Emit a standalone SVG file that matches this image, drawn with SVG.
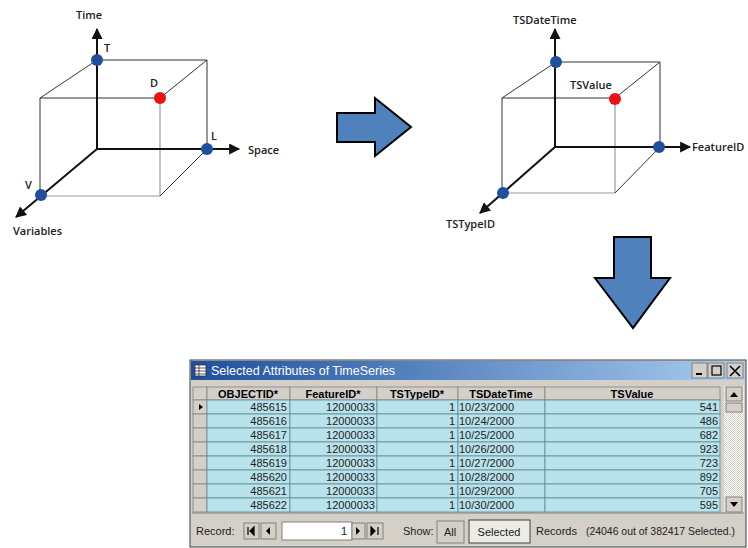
<svg xmlns="http://www.w3.org/2000/svg" width="748" height="548" viewBox="0 0 748 548">
<defs>
<marker id="ah" viewBox="0 0 10 10" refX="9" refY="5" markerWidth="6" markerHeight="5.5" orient="auto" markerUnits="strokeWidth">
<path d="M0,0 L10,5 L0,10 z" fill="#111"/>
</marker>
<linearGradient id="tb" x1="0" y1="0" x2="1" y2="0">
<stop offset="0" stop-color="#1d4f9e"/>
<stop offset="1" stop-color="#a9cdef"/>
</linearGradient>
<pattern id="sb" width="2" height="2" patternUnits="userSpaceOnUse">
<rect width="2" height="2" fill="#ffffff"/>
<rect width="1" height="1" fill="#d4d0c8"/>
<rect x="1" y="1" width="1" height="1" fill="#d4d0c8"/>
</pattern>
</defs>
<style>
.edge{stroke:#333;stroke-width:1;fill:none}
.edgel{stroke:#9a9a9a;stroke-width:1.2;fill:none}
.axis{stroke:#111;stroke-width:2;fill:none}
.bp{fill:#1f4f9f}
.rp{fill:#ee1111}
.lbl{font-family:"Open Sans","Liberation Sans",sans-serif;font-weight:600;font-size:11px;fill:#222}
.blk{fill:#4f81bd;stroke:#000;stroke-width:2}
.cell{fill:#b9e2ea;stroke:#5c8c9c;stroke-width:0.8}
.hdr{fill:#d4d0c8;stroke:#808080;stroke-width:0.8}
.ht{font-family:"Liberation Sans",Arial,sans-serif;font-weight:bold;font-size:11px;fill:#000;text-anchor:middle}
.ct{font-family:"Liberation Sans",Arial,sans-serif;font-size:11px;fill:#222}
.r{text-anchor:end}
.ui{font-family:"Liberation Sans",Arial,sans-serif;font-size:11px;fill:#222}
.btn{fill:#d4d0c8;stroke:#808080;stroke-width:1}
</style>

<g id="cube-left">
<line class="edge" x1="97" y1="60" x2="207" y2="60"/>
<line class="edge" x1="40" y1="98" x2="97" y2="60"/>
<line class="edge" x1="160" y1="98" x2="207" y2="60"/>
<line class="edge" x1="40" y1="98" x2="160" y2="98"/>
<line class="edge" x1="40" y1="98" x2="40" y2="196"/>
<line class="edge" x1="207" y1="60" x2="207" y2="149"/>
<line class="edgel" x1="160" y1="98" x2="160" y2="196"/>
<line class="edgel" x1="40" y1="196" x2="160" y2="196"/>
<line class="edge" x1="160" y1="196" x2="207" y2="149"/>
<line class="axis" x1="97" y1="149" x2="97" y2="29" marker-end="url(#ah)"/>
<line class="axis" x1="97" y1="149" x2="239" y2="149" marker-end="url(#ah)"/>
<line class="axis" x1="97" y1="149" x2="16" y2="217" marker-end="url(#ah)"/>
<circle class="bp" cx="97" cy="60" r="6"/>
<circle class="bp" cx="207" cy="149" r="6"/>
<circle class="bp" cx="41" cy="195" r="6"/>
<circle class="rp" cx="160" cy="98" r="6"/>
<text class="lbl" x="76" y="19">Time</text>
<text class="lbl" x="104" y="52">T</text>
<text class="lbl" x="150" y="87">D</text>
<text class="lbl" x="211" y="140">L</text>
<text class="lbl" x="248" y="154">Space</text>
<text class="lbl" x="25" y="189">V</text>
<text class="lbl" x="13" y="235">Variables</text>
</g>

<g id="cube-right">
<line class="edge" x1="556" y1="62" x2="660" y2="62"/>
<line class="edge" x1="502" y1="98" x2="556" y2="62"/>
<line class="edge" x1="615" y1="98" x2="660" y2="62"/>
<line class="edge" x1="502" y1="98" x2="615" y2="98"/>
<line class="edge" x1="502" y1="98" x2="502" y2="193"/>
<line class="edge" x1="660" y1="62" x2="660" y2="147"/>
<line class="edgel" x1="615" y1="98" x2="615" y2="193"/>
<line class="edgel" x1="502" y1="193" x2="615" y2="193"/>
<line class="edge" x1="615" y1="193" x2="660" y2="147"/>
<line class="axis" x1="555" y1="147" x2="555" y2="29" marker-end="url(#ah)"/>
<line class="axis" x1="555" y1="147" x2="690" y2="147" marker-end="url(#ah)"/>
<line class="axis" x1="555" y1="147" x2="480" y2="213" marker-end="url(#ah)"/>
<circle class="bp" cx="556" cy="62" r="6"/>
<circle class="bp" cx="659" cy="147" r="6"/>
<circle class="bp" cx="503" cy="193" r="6"/>
<circle class="rp" cx="615" cy="99" r="6"/>
<text class="lbl" x="513" y="24">TSDateTime</text>
<text class="lbl" x="570" y="89">TSValue</text>
<text class="lbl" x="692" y="151">FeatureID</text>
<text class="lbl" x="446" y="228">TSTypeID</text>
</g>

<g id="arrow-right">
<path class="blk" d="M337,113 L375,113 L375,98 L411,127 L375,156 L375,142 L337,142 Z"/>
</g>
<g id="arrow-down">
<path class="blk" d="M614,237 L651,237 L651,278 L670,278 L633,328 L595,278 L614,278 Z"/>
</g>

<g id="table-window">
<rect x="190" y="360" width="556" height="187" fill="#d4d0c8" stroke="#404040" stroke-width="1"/>
<rect x="191" y="361" width="554" height="19" fill="url(#tb)"/>
<g>
<rect x="195" y="365" width="11" height="11" fill="#fff" stroke="#333" stroke-width="0.8"/>
<line x1="195" y1="368" x2="206" y2="368" stroke="#333" stroke-width="0.8"/>
<line x1="195" y1="371" x2="206" y2="371" stroke="#333" stroke-width="0.8"/>
<line x1="195" y1="374" x2="206" y2="374" stroke="#333" stroke-width="0.8"/>
<line x1="199" y1="365" x2="199" y2="376" stroke="#333" stroke-width="0.8"/>
</g>
<text x="211" y="375" font-family="Liberation Sans,Arial,sans-serif" font-size="12.5" fill="#fff">Selected Attributes of TimeSeries</text>
<rect class="btn" x="692" y="363" width="15" height="15" fill="#d4d0c8"/>
<line x1="696" y1="374" x2="702" y2="374" stroke="#000" stroke-width="2"/>
<rect class="btn" x="708" y="363" width="16" height="15"/>
<rect x="712" y="366" width="9" height="9" fill="none" stroke="#000" stroke-width="1.2"/>
<rect class="btn" x="727" y="363" width="16" height="15"/>
<path d="M730,366 L740,376 M740,366 L730,376" stroke="#000" stroke-width="1.6"/>

<rect x="192" y="386" width="531" height="127" fill="#d4d0c8"/>
<rect class="hdr" x="193" y="387" width="14" height="13"/>
<rect class="hdr" x="207" y="387" width="83" height="13"/>
<rect class="hdr" x="290" y="387" width="87" height="13"/>
<rect class="hdr" x="377" y="387" width="81" height="13"/>
<rect class="hdr" x="458" y="387" width="87" height="13"/>
<rect class="hdr" x="545" y="387" width="175" height="13"/>
<text class="ht" x="248" y="398">OBJECTID*</text>
<text class="ht" x="333" y="398">FeatureID*</text>
<text class="ht" x="417" y="398">TSTypeID*</text>
<text class="ht" x="501" y="398">TSDateTime</text>
<text class="ht" x="632" y="398">TSValue</text>

<g id="rows">
<g transform="translate(0,400)">
<rect class="hdr" x="193" y="0" width="14" height="14"/>
<rect class="cell" x="207" y="0" width="83" height="14"/><rect class="cell" x="290" y="0" width="87" height="14"/><rect class="cell" x="377" y="0" width="81" height="14"/><rect class="cell" x="458" y="0" width="87" height="14"/><rect class="cell" x="545" y="0" width="175" height="14"/>
<path d="M199,4 L203,7 L199,10 Z" fill="#000"/>
<text class="ct r" x="287" y="11">485615</text><text class="ct r" x="375" y="11">12000033</text><text class="ct r" x="455" y="11">1</text><text class="ct" x="459" y="11">10/23/2000</text><text class="ct r" x="718" y="11">541</text>
</g>
<g transform="translate(0,414)">
<rect class="hdr" x="193" y="0" width="14" height="14"/>
<rect class="cell" x="207" y="0" width="83" height="14"/><rect class="cell" x="290" y="0" width="87" height="14"/><rect class="cell" x="377" y="0" width="81" height="14"/><rect class="cell" x="458" y="0" width="87" height="14"/><rect class="cell" x="545" y="0" width="175" height="14"/>
<text class="ct r" x="287" y="11">485616</text><text class="ct r" x="375" y="11">12000033</text><text class="ct r" x="455" y="11">1</text><text class="ct" x="459" y="11">10/24/2000</text><text class="ct r" x="718" y="11">486</text>
</g>
<g transform="translate(0,428)">
<rect class="hdr" x="193" y="0" width="14" height="14"/>
<rect class="cell" x="207" y="0" width="83" height="14"/><rect class="cell" x="290" y="0" width="87" height="14"/><rect class="cell" x="377" y="0" width="81" height="14"/><rect class="cell" x="458" y="0" width="87" height="14"/><rect class="cell" x="545" y="0" width="175" height="14"/>
<text class="ct r" x="287" y="11">485617</text><text class="ct r" x="375" y="11">12000033</text><text class="ct r" x="455" y="11">1</text><text class="ct" x="459" y="11">10/25/2000</text><text class="ct r" x="718" y="11">682</text>
</g>
<g transform="translate(0,442)">
<rect class="hdr" x="193" y="0" width="14" height="14"/>
<rect class="cell" x="207" y="0" width="83" height="14"/><rect class="cell" x="290" y="0" width="87" height="14"/><rect class="cell" x="377" y="0" width="81" height="14"/><rect class="cell" x="458" y="0" width="87" height="14"/><rect class="cell" x="545" y="0" width="175" height="14"/>
<text class="ct r" x="287" y="11">485618</text><text class="ct r" x="375" y="11">12000033</text><text class="ct r" x="455" y="11">1</text><text class="ct" x="459" y="11">10/26/2000</text><text class="ct r" x="718" y="11">923</text>
</g>
<g transform="translate(0,456)">
<rect class="hdr" x="193" y="0" width="14" height="14"/>
<rect class="cell" x="207" y="0" width="83" height="14"/><rect class="cell" x="290" y="0" width="87" height="14"/><rect class="cell" x="377" y="0" width="81" height="14"/><rect class="cell" x="458" y="0" width="87" height="14"/><rect class="cell" x="545" y="0" width="175" height="14"/>
<text class="ct r" x="287" y="11">485619</text><text class="ct r" x="375" y="11">12000033</text><text class="ct r" x="455" y="11">1</text><text class="ct" x="459" y="11">10/27/2000</text><text class="ct r" x="718" y="11">723</text>
</g>
<g transform="translate(0,470)">
<rect class="hdr" x="193" y="0" width="14" height="14"/>
<rect class="cell" x="207" y="0" width="83" height="14"/><rect class="cell" x="290" y="0" width="87" height="14"/><rect class="cell" x="377" y="0" width="81" height="14"/><rect class="cell" x="458" y="0" width="87" height="14"/><rect class="cell" x="545" y="0" width="175" height="14"/>
<text class="ct r" x="287" y="11">485620</text><text class="ct r" x="375" y="11">12000033</text><text class="ct r" x="455" y="11">1</text><text class="ct" x="459" y="11">10/28/2000</text><text class="ct r" x="718" y="11">892</text>
</g>
<g transform="translate(0,484)">
<rect class="hdr" x="193" y="0" width="14" height="14"/>
<rect class="cell" x="207" y="0" width="83" height="14"/><rect class="cell" x="290" y="0" width="87" height="14"/><rect class="cell" x="377" y="0" width="81" height="14"/><rect class="cell" x="458" y="0" width="87" height="14"/><rect class="cell" x="545" y="0" width="175" height="14"/>
<text class="ct r" x="287" y="11">485621</text><text class="ct r" x="375" y="11">12000033</text><text class="ct r" x="455" y="11">1</text><text class="ct" x="459" y="11">10/29/2000</text><text class="ct r" x="718" y="11">705</text>
</g>
<g transform="translate(0,498)">
<rect class="hdr" x="193" y="0" width="14" height="14"/>
<rect class="cell" x="207" y="0" width="83" height="14"/><rect class="cell" x="290" y="0" width="87" height="14"/><rect class="cell" x="377" y="0" width="81" height="14"/><rect class="cell" x="458" y="0" width="87" height="14"/><rect class="cell" x="545" y="0" width="175" height="14"/>
<text class="ct r" x="287" y="11">485622</text><text class="ct r" x="375" y="11">12000033</text><text class="ct r" x="455" y="11">1</text><text class="ct" x="459" y="11">10/30/2000</text><text class="ct r" x="718" y="11">595</text>
</g>
</g>

<rect x="724" y="386" width="20" height="127" fill="url(#sb)"/>
<rect class="btn" x="726" y="387" width="16" height="14"/>
<path d="M730,397 L734,392 L738,397 Z" fill="#000"/>
<rect class="btn" x="726" y="403" width="16" height="9"/>
<rect class="btn" x="726" y="497" width="16" height="15"/>
<path d="M730,502 L738,502 L734,507 Z" fill="#000"/>
<line x1="192" y1="513" x2="744" y2="513" stroke="#808080" stroke-width="1"/>

<text class="ui" x="196" y="535">Record:</text>
<rect class="btn" x="244" y="523" width="15" height="16"/>
<path d="M248,527 L248,535 M254,527 L250,531 L254,535 Z" stroke="#000" stroke-width="1.2" fill="#000"/>
<rect class="btn" x="261" y="523" width="15" height="16"/>
<path d="M270,527 L266,531 L270,535 Z" fill="#000"/>
<rect x="282" y="522" width="70" height="18" fill="#fff" stroke="#808080" stroke-width="1"/>
<text class="ui r" x="347" y="535">1</text>
<rect class="btn" x="352" y="523" width="13" height="16"/>
<path d="M356,527 L360,531 L356,535 Z" fill="#000"/>
<rect class="btn" x="367" y="523" width="16" height="16"/>
<path d="M371,527 L375,531 L371,535 Z M378,527 L378,535" stroke="#000" stroke-width="1.2" fill="#000"/>
<text class="ui" x="403" y="535">Show:</text>
<rect class="btn" x="437" y="521" width="27" height="22"/>
<text class="ui" x="450" y="536" text-anchor="middle">All</text>
<rect x="469" y="520" width="61" height="23" fill="#ecebe6" stroke="#404040" stroke-width="1"/>
<text class="ui" x="499" y="536" text-anchor="middle">Selected</text>
<text class="ui" x="536" y="535">Records</text>
<text class="ui" x="586" y="535" textLength="149" lengthAdjust="spacingAndGlyphs">(24046 out of 382417 Selected.)</text>
</g>
</svg>
